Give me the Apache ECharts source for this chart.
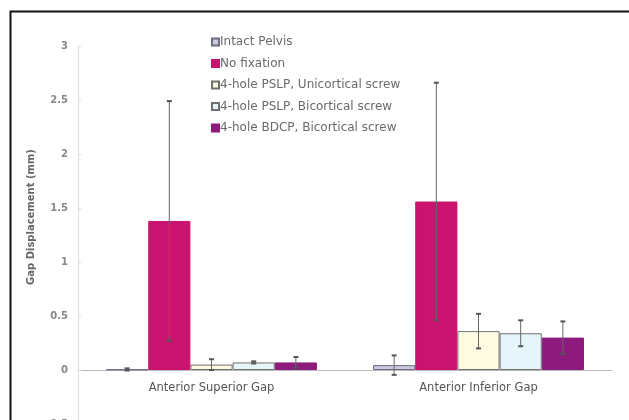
<!DOCTYPE html>
<html><head><meta charset="utf-8">
<script src="https://cdn.jsdelivr.net/npm/echarts@6/dist/echarts.min.js"></script>
<style>html,body{margin:0;padding:0;background:#fff}#c{width:629px;height:420px}</style>
</head><body><div id="c"></div>
<script>
var categories = ['Anterior Superior Gap', 'Anterior Inferior Gap'];
var seriesNames = ['Intact Pelvis', 'No fixation', '4-hole PSLP, Unicortical screw', '4-hole PSLP, Bicortical screw', '4-hole BDCP, Bicortical screw'];
var intactPelvis = [0.005, 0.045];
var noFixation = [1.38, 1.56];
var psUni = [0.05, 0.36];
var psBi = [0.07, 0.34];
var bdcp = [0.07, 0.30];
var errIntact = [0.01, 0.09];
var errNoFix = [1.11, 1.1];
var errPsUni = [0.05, 0.16];
var errPsBi = [0.01, 0.12];
var errBdcp = [0.05, 0.15];
var yTicks = [-0.5, 0, 0.5, 1, 1.5, 2, 2.5, 3];

var values = [intactPelvis, noFixation, psUni, psBi, bdcp];
var errors = [errIntact, errNoFix, errPsUni, errPsBi, errBdcp];
var fills = ['#c9c9de', '#c8146f', '#fffbe3', '#e6f5f9', '#8d1a7d'];
var borders = ['#6a6a80', '#c8146f', '#707070', '#707070', '#8d1a7d'];
var FONT = 'DejaVu Sans';

var chart = echarts.init(document.getElementById('c'));
var series = [];
values.forEach(function (v, i) {
  series.push({
    name: seriesNames[i], type: 'bar', data: v,
    barGap: '0%', barCategoryGap: '21%',
    itemStyle: { color: fills[i], borderColor: borders[i], borderWidth: 1 }
  });
});
values.forEach(function (v, i) {
  series.push({
    type: 'custom', name: seriesNames[i] + ' err', silent: true, z: 10,
    data: v.map(function (val, j) { return [j, val - errors[i][j], val + errors[i][j]]; }),
    renderItem: function (params, api) {
      var ci = api.value(0);
      var lo = api.coord([ci, api.value(1)]);
      var hi = api.coord([ci, api.value(2)]);
      var bw = api.size([1, 0])[0];
      var barW = bw * (1 - 0.21) / 5;
      var x = lo[0] - bw * (1 - 0.21) / 2 + barW * (i + 0.5);
      var st = { stroke: '#666', lineWidth: 1 };
      return { type: 'group', children: [
        { type: 'line', shape: { x1: x, y1: lo[1], x2: x, y2: hi[1] }, style: st },
        { type: 'line', shape: { x1: x - 2.5, y1: lo[1], x2: x + 2.5, y2: lo[1] }, style: { stroke: '#555', lineWidth: 2 } },
        { type: 'line', shape: { x1: x - 2.5, y1: hi[1], x2: x + 2.5, y2: hi[1] }, style: { stroke: '#555', lineWidth: 2 } }
      ] };
    }
  });
});

chart.setOption({
  animation: false,
  grid: { left: 78, right: 17, top: 46, height: 378, outerBoundsMode: 'none', containLabel: false },
  legend: {
    data: seriesNames, orient: 'vertical', left: 206, top: 31,
    itemWidth: 7, itemHeight: 7, itemGap: 9.5,
    textStyle: { fontSize: 12, color: '#6a6a6a', fontFamily: FONT, padding: [0, 0, 0, -4] },
    icon: 'rect'
  },
  xAxis: {
    type: 'category', data: categories,
    offset: -54,
    axisLine: { onZero: false, lineStyle: { color: '#bbb' } },
    axisTick: { show: false },
    axisLabel: { fontSize: 11.5, color: '#555', margin: 12, fontFamily: FONT }
  },
  yAxis: {
    type: 'value', min: yTicks[0], max: yTicks[yTicks.length - 1], interval: 0.5,
    axisLine: { show: true, lineStyle: { color: '#ddd' } },
    axisTick: { show: true, length: 3, inside: true, lineStyle: { color: '#ddd' } },
    splitLine: { show: false },
    axisLabel: { fontSize: 10, color: '#888', margin: 10, fontWeight: 'bold', fontFamily: FONT }
  },
  graphic: [
    { type: 'rect', left: 8, top: 9, shape: { width: 700, height: 500 }, style: { fill: 'none', stroke: '#111', lineWidth: 2 }, silent: true },
    { type: 'text', x: 31, y: 217, rotation: Math.PI / 2, style: { text: 'Gap Displacement (mm)', fontSize: 10, fontWeight: 'bold', fill: '#666', fontFamily: FONT, align: 'center', verticalAlign: 'middle' } }
  ],
  series: series
});
</script></body></html>
